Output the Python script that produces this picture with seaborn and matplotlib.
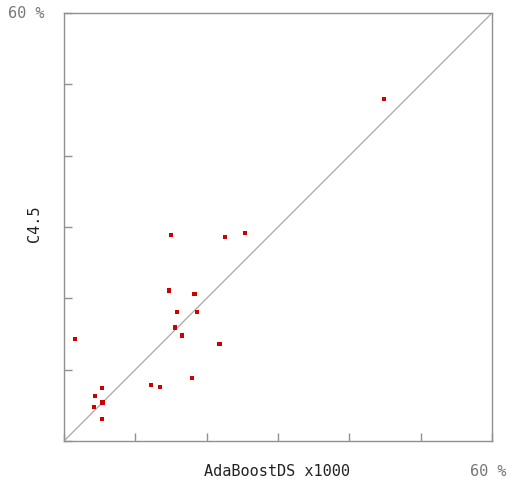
import matplotlib
matplotlib.use("Agg")
import matplotlib.pyplot as plt
import seaborn as sns
import pandas as pd

# Data (error rates in %)
adaboost = [44.9, 15.0, 22.6, 25.4, 14.7, 18.3, 15.8, 18.6, 15.6, 16.6, 1.6,
            21.8, 18.0, 12.2, 13.4, 5.3, 4.4, 5.4, 4.2, 5.3]
c45 = [47.9, 28.9, 28.6, 29.2, 21.1, 20.6, 18.1, 18.1, 15.9, 14.8, 14.3,
       13.6, 8.8, 7.9, 7.6, 7.4, 6.3, 5.4, 4.8, 3.1]
x_label = "AdaBoostDS x1000"
y_label = "C4.5"
corner_label = "60 %"
ticks = [0, 10, 20, 30, 40, 50, 60]

df = pd.DataFrame({"x": adaboost, "y": c45})

sns.set_style("white")
plt.rcParams['font.family'] = ['DejaVu Sans Mono', 'DejaVu Sans']

fig = plt.figure(figsize=(5.12, 4.79), dpi=100)
ax = fig.add_axes([64/512, 38/479, 428/512, 428/479])

ax.plot([0, 60], [0, 60], color="#a8a8a8", lw=0.9, zorder=1)
sns.scatterplot(data=df, x="x", y="y", marker="s", s=9, color="#cc0000",
                edgecolor="none", linewidth=0, ax=ax, zorder=3)

ax.set_xlim(0, 60)
ax.set_ylim(0, 60)
ax.set_xticks(ticks)
ax.set_yticks(ticks)
ax.set_xticklabels([])
ax.set_yticklabels([])
ax.tick_params(axis="both", direction="in", length=6, width=1, color="#909090",
               bottom=True, left=True, top=False, right=False)
for sp in ax.spines.values():
    sp.set_color("#909090")
    sp.set_linewidth(1)
ax.set_xlabel("")
ax.set_ylabel("")

fig.text(277/512, 1 - 472/479, x_label, ha="center", va="center",
         fontsize=11, color="#222222")
fig.text(35/512, 1 - 224/479, y_label, ha="center", va="center",
         rotation=90, fontsize=11, color="#222222")
fig.text(26/512, 1 - 14/479, corner_label, ha="center", va="center",
         fontsize=11, color="#777777")
fig.text(488/512, 1 - 471/479, corner_label, ha="center", va="center",
         fontsize=11, color="#777777")

fig.savefig("out.png", dpi=100)
